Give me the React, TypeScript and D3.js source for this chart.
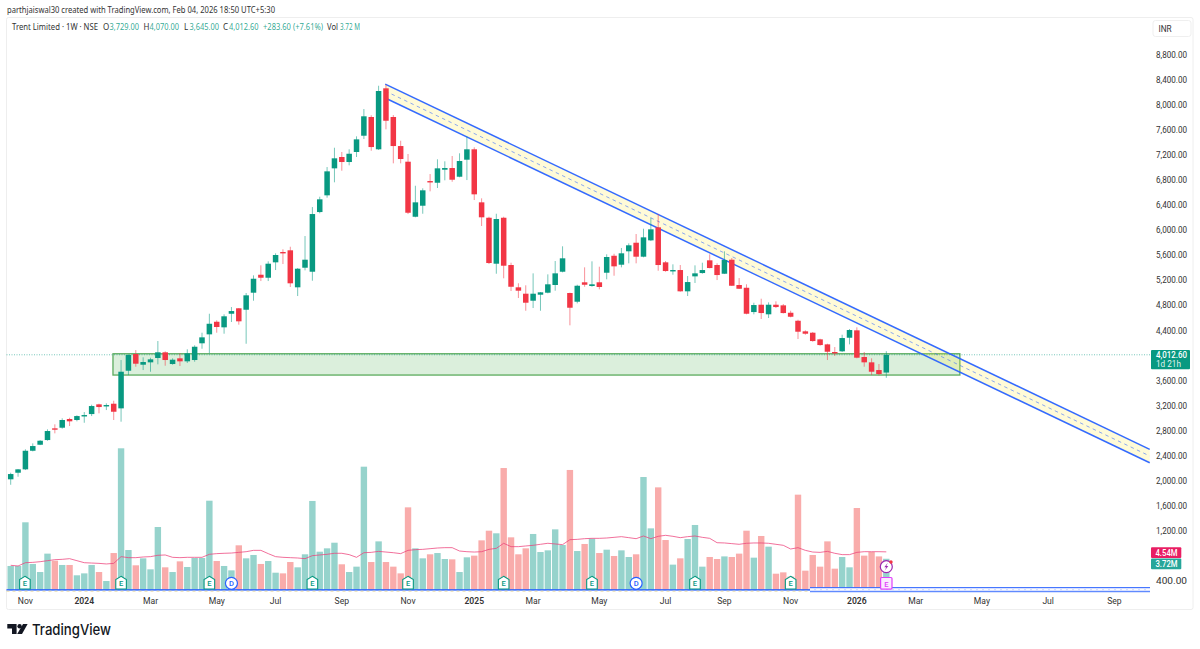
import React from "react";
import * as d3 from "d3";

const opens = [2024,2129,2183,2480,2576,2651,2838,2848,2987,2971,3039,3066,3221,3189,3231,3157,3758,4025,3854,3892,3961,4052,3865,3956,3908,3929,4196,4339,4540,4451,4668,4755,4732,5004,5291,5243,5489,5654,5681,5090,5403,5339,6292,6559,6990,7171,7091,7251,7511,7810,7294,8268,7810,7346,7096,6217,6393,6787,6760,6968,6995,6856,7128,7294,6447,6201,5467,6201,5446,5090,4988,4876,4972,5004,5127,5339,4999,4860,5170,5111,5170,5323,5594,5451,5665,5802,5579,5840,6048,5489,5355,5366,5026,5265,5318,5521,5446,5307,5531,5127,5083,4695,4812,4659,4812,4802,4684,4556,4387,4365,4259,4179,4057,4068,4285,4403,3977,3892,3769,3729];
const highs = [2129,2188,2503,2598,2650,2822,2902,2998,3007,3046,3098,3215,3231,3237,3279,3929,4020,4088,3972,3965,4232,4068,3956,4036,4100,4164,4365,4668,4563,4659,4775,4759,4999,5281,5441,5505,5633,5697,5738,5398,5909,6372,6537,7011,7319,7251,7294,7501,7937,7837,8309,8325,7841,7431,7219,6712,6671,6899,7134,7102,7187,7230,7495,7326,6511,6217,6265,6217,5483,5154,5122,5313,5015,5297,5510,5745,5004,5131,5409,5505,5419,5617,5626,5718,5792,5941,6026,6201,6260,5510,5457,5446,5270,5441,5483,5617,5473,5665,5558,5238,5138,4844,4908,4850,4866,4823,4716,4572,4403,4376,4269,4189,4136,4333,4424,4451,4057,3956,3865,4070];
const lows = [1937,2065,2172,2470,2570,2640,2758,2832,2875,2950,2927,3034,3078,3130,2971,2944,3689,3822,3769,3742,3860,3838,3854,3833,3881,3902,4109,4036,4365,4349,4536,4493,4189,4876,5190,5190,5366,5462,5095,4951,5361,5195,6272,6521,6767,6952,7038,7171,7458,7271,7283,7613,7070,7070,6260,6208,6265,6623,6676,6799,6776,6847,6803,6484,6069,5462,5307,5234,5031,4919,4716,4759,4716,4994,5036,5329,4483,4834,5099,5099,5058,5218,5275,5409,5473,5473,5569,5829,5355,5339,5291,5020,4951,5159,5307,5393,5206,5302,5111,5063,4659,4659,4584,4600,4759,4672,4611,4264,4333,4221,4157,3929,3993,4057,4179,3956,3822,3689,3684,3645];
const closes = [2108,2183,2480,2555,2640,2795,2827,2971,2950,3034,3050,3194,3178,3210,3103,3742,4009,3870,3897,3940,4052,3929,3934,3908,4036,4141,4291,4508,4456,4627,4711,4547,4962,5227,5243,5467,5606,5642,5154,5387,5531,6260,6495,6942,7150,7091,7223,7453,7821,7330,8225,7750,7346,7139,6281,6447,6639,6776,6990,6995,6808,7107,7294,6575,6208,5478,6181,5435,5099,5036,4844,4988,5010,5138,5313,5553,4764,5115,5131,5138,5095,5574,5425,5633,5761,5579,5888,6016,5446,5350,5366,5026,5174,5313,5366,5398,5286,5526,5115,5067,4668,4807,4679,4812,4775,4679,4620,4381,4349,4232,4168,4061,4045,4280,4408,3966,3892,3742,3705,4012.6];
const volumes = [2.86,2.86,8.06,3.1,2.14,4.33,3.49,2.98,2.98,1.75,1.98,2.98,2.14,1.07,4.4,16.87,4.76,2.94,3.77,2.46,7.5,2.7,2.14,3.41,2.74,3.81,3.81,10.63,3.45,2.86,2.34,5.32,3.77,4.17,3.1,3.45,2.06,1.98,3.33,2.7,4.25,10.6,4.56,4.96,5.63,3.06,2.14,2.78,14.68,3.33,5.79,3.33,2.78,1.98,9.84,4.96,3.77,4.25,4.4,3.69,3.65,2.14,3.89,4.09,5.91,7.06,6.75,14.52,6.27,4.25,4.96,6.67,4.52,4.72,7.22,5.36,14.29,4.64,5.48,6.11,4.4,4.8,4.05,4.72,3.93,4.25,13.45,7.34,12.22,5.95,3.02,3.77,6.07,7.74,2.78,3.93,3.69,4.0,3.93,4.33,7.06,3.85,6.43,5.16,1.94,2.1,1.6,11.35,2.3,4.17,2.78,5.79,2.54,3.93,2.7,9.76,4.09,4.52,4.0,3.72];
const volumeMA = [2.94,2.86,3.25,3.29,3.37,3.49,3.61,3.65,3.73,3.49,3.25,3.21,3.17,3.1,3.17,3.97,3.85,3.85,3.93,3.97,4.13,4.17,3.89,3.85,3.89,3.89,3.89,4.25,4.33,4.37,4.4,4.48,4.56,4.72,4.72,4.33,3.97,3.89,3.85,3.81,3.73,4.09,4.17,4.25,4.37,4.37,4.21,3.89,4.44,4.48,4.6,4.52,4.44,4.33,4.72,4.8,4.84,4.92,5.0,5.04,5.04,4.64,4.56,4.52,4.56,4.84,4.96,5.56,5.16,5.16,5.24,5.32,5.44,5.56,5.48,5.4,5.99,6.03,6.11,6.15,6.15,6.19,6.27,6.35,6.23,6.11,6.43,6.11,6.39,6.51,6.39,6.23,6.35,6.43,6.27,6.15,5.63,5.6,5.52,5.44,5.56,5.6,5.6,5.56,5.44,5.32,4.88,5.04,4.72,4.52,4.48,4.6,4.37,4.21,4.21,4.48,4.56,4.56,4.56,4.54];

const priceTicks = [8800,8400,8000,7600,7200,6800,6400,6000,5600,5200,4800,4400,3600,3200,2800,2400,2000,1600,1200,400];
const timeLabels: [number,string,boolean][] = [[2,"Nov",false],[10,"2024",true],[19,"Mar",false],[28,"May",false],[36,"Jul",false],[45,"Sep",false],[54,"Nov",false],[63,"2025",true],[71,"Mar",false],[80,"May",false],[89,"Jul",false],[97,"Sep",false],[106,"Nov",false],[115,"2026",true],[123,"Mar",false],[132,"May",false],[141,"Jul",false],[150,"Sep",false]];
const earnings = [2,15,27,41,54,67,79,93,106];
const dividends = [30,85];
const zone = { fromIndex: 13.9, toIndex: 129, top: 4029, bottom: 3689 };
const channel = { fromIndex: 50.9, toIndex: 154.8, upper: [8336,2503], lower: [8113,2289] };
const lastClose = 4012.6;
const lastVol = 3.72;
const lastVolMA = 4.54;

const GREEN = "#089981", RED = "#f23645", BLUE = "#2962ff";
const FONT = "Roboto, 'Noto Sans', sans-serif";

const x = d3.scaleLinear().domain([0, 119]).range([10.7, 886.3]);
const y = d3.scaleLinear().domain([400, 8800]).range([581, 55]);
const yv = d3.scaleLinear().domain([0, 10]).range([590, 506]);
const fmt = d3.format(",.2f");
const maLine = d3.line<number>().x((_, i) => x(i)).y(d => yv(d));

const bw = 5.5, vw = 6.4;

function Earn({ cx }: { cx: number }) {
  const t = 576.3, b = 589, l = cx - 5.3, r = cx + 5.3;
  return (
    <g>
      <path d={`M${cx},${t} L${r},${t + 3.2} L${r},${b} L${l},${b} L${l},${t + 3.2} Z`} fill="#fff" stroke={GREEN} strokeWidth={1.1} />
      <text x={cx} y={586} textAnchor="middle" fontSize={7.6} fontFamily={FONT} fontWeight={500} fill={GREEN}>E</text>
    </g>
  );
}

export default function App() {
  const cx0 = x(channel.fromIndex), cx1 = x(channel.toIndex);
  const up0 = y(channel.upper[0]), up1 = y(channel.upper[1]);
  const lo0 = y(channel.lower[0]), lo1 = y(channel.lower[1]);
  return (
    <svg width={1200} height={649} style={{ position: "absolute", left: 0, top: 0, display: "block", background: "#fff" }} fontFamily={FONT}>
      <text x={7} y={12.5} fontSize={9.6} fill="#333" fontFamily="'Noto Sans', sans-serif" textLength={268} lengthAdjust="spacingAndGlyphs">parthjaiswal30 created with TradingView.com, Feb 04, 2026 18:50 UTC+5:30</text>
      <rect x={6.5} y={17.5} width={1186.5} height={592} fill="#fff" stroke="#eeeeee" strokeWidth={1} rx={2} />

      {/* header legend */}
      <g fontSize={8.6} fontFamily="'Noto Sans', sans-serif">
        <text x={12} y={30} fill="#333" textLength={86} lengthAdjust="spacingAndGlyphs">Trent Limited · 1W · NSE</text>
        {([["O",103,"3,729.00",109.5],["H",143.5,"4,070.00",149.5],["L",184,"3,645.00",189.5],["C",223,"4,012.60",229]] as [string,number,string,number][]).map(([k,a,v,b]) => (
          <g key={k}>
            <text x={a} y={30} fontSize={8} fill="#333">{k}</text>
            <text x={b} y={30} fill={GREEN} fillOpacity={0.85} textLength={29.5} lengthAdjust="spacingAndGlyphs">{v}</text>
          </g>
        ))}
        <text x={263} y={30} fill={GREEN} fillOpacity={0.85} textLength={60} lengthAdjust="spacingAndGlyphs">+283.60 (+7.61%)</text>
        <text x={327} y={30} fill="#333" textLength={11} lengthAdjust="spacingAndGlyphs">Vol</text>
        <text x={340} y={30} fill={GREEN} fillOpacity={0.85} textLength={20} lengthAdjust="spacingAndGlyphs">3.72 M</text>
      </g>

      {/* volume */}
      {volumes.map((v, i) => (
        <rect key={i} x={x(i) - vw / 2} y={yv(v)} width={vw} height={yv(0) - yv(v)}
          fill={closes[i] >= opens[i] ? "#96d3cc" : "#f9acab"} />
      ))}
      <path d={maLine(volumeMA) || ""} fill="none" stroke="#ec407a" strokeOpacity={0.75} strokeWidth={1} />

      {/* bottom band drawing */}
      <line x1={6.5} x2={810} y1={589.8} y2={589.8} stroke={BLUE} strokeOpacity={0.85} strokeWidth={1.8} />
      <line x1={6.5} x2={810} y1={591.2} y2={591.2} stroke="#e6d9a8" strokeWidth={1} strokeDasharray="3 3" />
      <rect x={810} y={587.5} width={340} height={4.2} fill="#d6dfff" />
      <line x1={810} x2={1150} y1={587.5} y2={587.5} stroke={BLUE} strokeOpacity={0.85} strokeWidth={1.2} />
      <line x1={810} x2={1150} y1={591.7} y2={591.7} stroke={BLUE} strokeOpacity={0.7} strokeWidth={1.2} />
      <line x1={810} x2={1150} y1={589.6} y2={589.6} stroke="#fff" strokeWidth={1} strokeDasharray="4 2" />

      {/* zone */}
      <rect x={x(zone.fromIndex)} y={y(zone.top)} width={x(zone.toIndex) - x(zone.fromIndex)} height={y(zone.bottom) - y(zone.top)}
        fill="#4caf50" fillOpacity={0.2} stroke="#5bab5e" strokeWidth={1.3} />

      {/* last price line */}
      <line x1={6.5} x2={1150} y1={y(lastClose)} y2={y(lastClose)} stroke={GREEN} strokeOpacity={0.55} strokeWidth={1} strokeDasharray="1 1.5" />

      {/* channel */}
      <path d={`M${cx0},${up0} L${cx1},${up1} L${cx1},${lo1} L${cx0},${lo0} Z`} fill="#ffeb3b" fillOpacity={0.2} />
      <line x1={cx0} y1={(up0 + lo0) / 2} x2={cx1} y2={(up1 + lo1) / 2} stroke={BLUE} strokeOpacity={0.55} strokeWidth={1} strokeDasharray="3.5 3.5" />
      <line x1={cx0} y1={up0} x2={cx1} y2={up1} stroke={BLUE} strokeOpacity={0.95} strokeWidth={1.5} />
      <line x1={cx0} y1={lo0} x2={cx1} y2={lo1} stroke={BLUE} strokeOpacity={0.95} strokeWidth={1.5} />

      {/* candles */}
      {opens.map((o, i) => {
        const c = closes[i];
        const col = c >= o ? GREEN : RED;
        const top = y(Math.max(o, c)), bot = y(Math.min(o, c));
        return (
          <g key={i}>
            <line x1={x(i)} x2={x(i)} y1={y(highs[i])} y2={y(lows[i])} stroke={col} strokeOpacity={0.55} strokeWidth={1} />
            <rect x={x(i) - bw / 2} y={top} width={bw} height={Math.max(bot - top, 1.4)} fill={col} />
          </g>
        );
      })}

      {/* event markers */}
      {earnings.map(i => <Earn key={i} cx={x(i) + (i === 2 ? -0.5 : 0)} />)}
      {dividends.map(i => (
        <g key={i}>
          <circle cx={x(i)} cy={583.3} r={6} fill="#fff" stroke={BLUE} strokeWidth={1.2} />
          <text x={x(i)} y={586.3} textAnchor="middle" fontSize={7.6} fontWeight={500} fill={BLUE}>D</text>
        </g>
      ))}
      <circle cx={x(119)} cy={566.7} r={6} fill="#fff" stroke="#9c27b0" strokeWidth={1.2} />
      <path d={`M${x(119) + 1.5},${562.8} L${x(119) - 2},${567.2} L${x(119)},${567.2} L${x(119) - 1.5},${570.6} L${x(119) + 2},${566} L${x(119)},${566} Z`} fill="#9c27b0" />
      <circle cx={x(119) + 4.7} cy={562} r={1.7} fill="#f23645" />
      <rect x={x(119) - 5.7} y={577.5} width={11.4} height={11.6} rx={1} fill="#fbeaff" stroke="#e040fb" strokeWidth={1.2} />
      <text x={x(119)} y={586.5} textAnchor="middle" fontSize={7.6} fontWeight={500} fill="#e040fb">E</text>

      {/* price axis */}
      {priceTicks.map(t => (
        <text key={t} x={1187} y={y(t) + 3} textAnchor="end" fontSize={8.8} fill="#333" textLength={31} lengthAdjust="spacingAndGlyphs">{fmt(t)}</text>
      ))}
      <rect x={1153} y={20.5} width={38} height={16} rx={2.5} fill="#fff" stroke="#efefef" />
      <text x={1158.5} y={32} fontSize={8.2} fill="#333">INR</text>

      <rect x={1151} y={350} width={39} height={19.3} rx={1} fill={GREEN} />
      <text x={1187} y={357.8} textAnchor="end" fontSize={8.8} fontWeight={500} fill="#fff" textLength={31} lengthAdjust="spacingAndGlyphs">{fmt(lastClose)}</text>
      <text x={1156} y={366.8} fontSize={8.2} fill="#fff" fillOpacity={0.9}>1d 21h</text>
      <rect x={1151} y={547.3} width={30.3} height={10.7} rx={1} fill="#e91e63" />
      <text x={1155.5} y={555.8} fontSize={8.8} fontWeight={500} fill="#fff" textLength={22} lengthAdjust="spacingAndGlyphs">{lastVolMA.toFixed(2)}M</text>
      <rect x={1151} y={558.4} width={30.3} height={10.9} rx={1} fill="#26a69a" />
      <text x={1155.5} y={566.9} fontSize={8.8} fontWeight={500} fill="#fff" textLength={22} lengthAdjust="spacingAndGlyphs">{lastVol.toFixed(2)}M</text>

      {/* time axis */}
      {timeLabels.map(([i, s, b]) => (
        <text key={i} x={x(i)} y={603.8} textAnchor="middle" fontSize={8.6} fontWeight={b ? 600 : 400} fill="#333">{s}</text>
      ))}

      {/* logo */}
      <g fill="#131722">
        <path d="M7.3,624 H16.6 V634 H12 V628.5 H7.3 Z" />
        <circle cx={19.6} cy={626.2} r={2.2} />
        <path d="M23,624 H27.6 L22,634 H17.2 Z" />
        <text x={32} y={634.6} fontSize={15} fontWeight={500} fontFamily="Inter, Roboto, sans-serif" textLength={79} lengthAdjust="spacingAndGlyphs">TradingView</text>
      </g>
    </svg>
  );
}
